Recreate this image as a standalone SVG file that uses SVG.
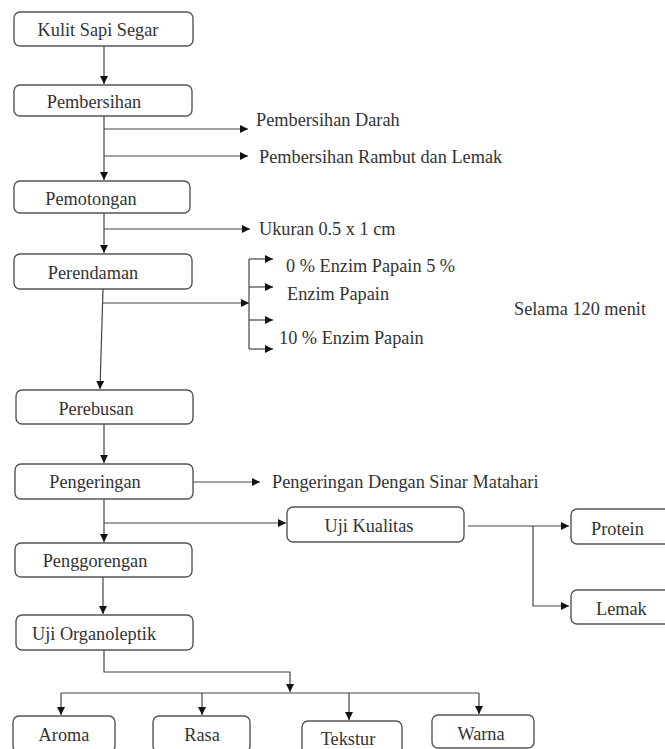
<svg xmlns="http://www.w3.org/2000/svg" width="665" height="749" viewBox="0 0 665 749">
<defs>
<marker id="ah" viewBox="0 0 10 10" refX="10" refY="5" markerWidth="10" markerHeight="8" markerUnits="userSpaceOnUse" orient="auto"><path d="M0,0 L10,5 L0,10 z" fill="#111"/></marker>
</defs>
<style>
.box{fill:#fff;stroke:#555;stroke-width:1.4}
.t{font-family:"Liberation Serif","Times New Roman",serif;font-size:18.3px;fill:#333}
.m{text-anchor:middle}
.c{fill:none;stroke:#444;stroke-width:1.2}
.a{marker-end:url(#ah)}
</style>
<rect width="665" height="749" fill="#fff"/>
<g id="connectors">
<path class="c a" d="M104,46 V84"/>
<path class="c a" d="M104,116 V180"/>
<path class="c a" d="M104,129 H248"/>
<path class="c a" d="M104,156 H248"/>
<path class="c a" d="M104,213 V253"/>
<path class="c a" d="M104,229 H250"/>
<path class="c a" d="M103,289 L100,389"/>
<path class="c a" d="M103,303 H249"/>
<path class="c" d="M249,259 V349"/>
<path class="c a" d="M249,259 H273"/>
<path class="c a" d="M249,287 H273"/>
<path class="c a" d="M249,320 H273"/>
<path class="c a" d="M249,349 H273"/>
<path class="c a" d="M104,424 V463"/>
<path class="c a" d="M193,482 H260"/>
<path class="c a" d="M104,499 V542"/>
<path class="c a" d="M104,523 H286"/>
<path class="c" d="M468,526 H533"/>
<path class="c a" d="M533,526 H569"/>
<path class="c a" d="M533,526 V606 H569"/>
<path class="c a" d="M103,577 V614"/>
<path class="c a" d="M104,650 V672 H290 V692"/>
<path class="c" d="M61,693 H479"/>
<path class="c a" d="M61,693 V715"/>
<path class="c a" d="M202,693 V715"/>
<path class="c a" d="M349,693 V720"/>
<path class="c a" d="M479,693 V714"/>
</g>
<g id="kulit"><rect class="box" x="14" y="12" width="179" height="34" rx="6"/><text class="t m" x="98" y="36">Kulit Sapi Segar</text></g>
<g id="pembersihan"><rect class="box" x="14" y="85" width="178" height="31" rx="6"/><text class="t m" x="94" y="108">Pembersihan</text></g>
<g id="pembersihan-darah"><text class="t" x="256" y="126">Pembersihan Darah</text></g>
<g id="pembersihan-rambut"><text class="t" x="259" y="163">Pembersihan Rambut dan Lemak</text></g>
<g id="pemotongan"><rect class="box" x="14" y="181" width="176" height="32" rx="6"/><text class="t m" x="91" y="205">Pemotongan</text></g>
<g id="ukuran"><text class="t" x="259" y="235">Ukuran 0.5 x 1 cm</text></g>
<g id="perendaman"><rect class="box" x="14" y="254" width="178" height="35" rx="6"/><text class="t m" x="93" y="279">Perendaman</text></g>
<g id="enzim"><text class="t" x="286" y="272">0 % Enzim Papain 5 %</text><text class="t" x="287" y="300">Enzim Papain</text><text class="t" x="279" y="344">10 % Enzim Papain</text></g>
<g id="selama"><text class="t" x="514" y="315">Selama 120 menit</text></g>
<g id="perebusan"><rect class="box" x="16" y="390" width="177" height="34" rx="6"/><text class="t m" x="96" y="415">Perebusan</text></g>
<g id="pengeringan"><rect class="box" x="15" y="464" width="178" height="35" rx="6"/><text class="t m" x="95" y="488">Pengeringan</text></g>
<g id="sinar"><text class="t" x="272" y="488">Pengeringan Dengan Sinar Matahari</text></g>
<g id="uji-kualitas"><rect class="box" x="287" y="507" width="177" height="35" rx="6"/><text class="t m" x="369" y="532">Uji Kualitas</text></g>
<g id="protein"><rect class="box" x="571" y="509" width="110" height="35" rx="6"/><text class="t" x="591" y="535">Protein</text></g>
<g id="lemak"><rect class="box" x="571" y="590" width="110" height="34" rx="6"/><text class="t" x="596" y="615">Lemak</text></g>
<g id="penggorengan"><rect class="box" x="15" y="543" width="177" height="34" rx="6"/><text class="t m" x="95" y="567">Penggorengan</text></g>
<g id="uji-organoleptik"><rect class="box" x="16" y="615" width="177" height="35" rx="6"/><text class="t m" x="94" y="640">Uji Organoleptik</text></g>
<g id="aroma"><rect class="box" x="13" y="716" width="102" height="36" rx="6"/><text class="t m" x="64" y="741">Aroma</text></g>
<g id="rasa"><rect class="box" x="153" y="716" width="97" height="36" rx="6"/><text class="t m" x="202" y="741">Rasa</text></g>
<g id="tekstur"><rect class="box" x="302" y="721" width="100" height="34" rx="6"/><text class="t m" x="348" y="745">Tekstur</text></g>
<g id="warna"><rect class="box" x="432" y="715" width="102" height="33" rx="6"/><text class="t m" x="481" y="740">Warna</text></g>
</svg>
